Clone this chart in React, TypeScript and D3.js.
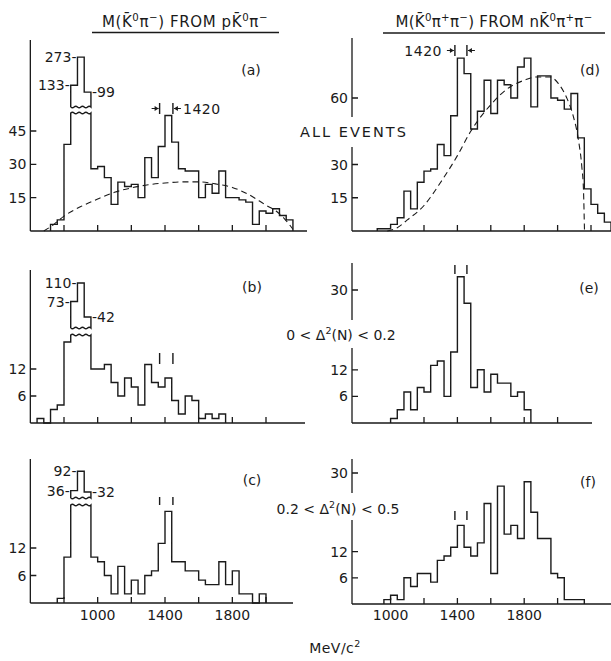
import * as React from 'react';
import * as d3 from 'd3';

const WIDTH = 611;
const HEIGHT = 661;
const BIN = 40; // MeV per bin

// left column: M(K̄0 π-) from p K̄0 π-, counts per 40 MeV bin
const startA = 720;
const countsA = [3, 5, 39, 133, 273, 99, 28, 29, 24, 12, 22, 20, 21, 15, 33, 24, 38, 52, 40, 28, 27, 27, 15, 21, 17, 27, 15, 15, 14, 13, 3, 9, 8, 10, 7, 5];
const startB = 640;
const countsB = [1, 0, 3, 4, 18, 73, 110, 42, 12, 12, 13, 9, 6, 10, 8, 4, 13, 9, 8, 10, 5, 2, 6, 5, 1, 2, 1, 2];
const startC = 760;
const countsC = [1, 10, 36, 92, 32, 10, 9, 6, 2, 8, 2, 5, 2, 6, 7, 13, 20, 9, 9, 7, 7, 5, 4, 4, 9, 4, 7, 2, 2, 0, 2];

// right column: M(K̄0 π+ π-) from n K̄0 π+ π-
const startD = 920;
const countsD = [1, 1, 3, 6, 18, 10, 22, 27, 28, 39, 34, 52, 78, 71, 46, 54, 68, 53, 68, 66, 60, 74, 78, 56, 70, 70, 60, 59, 55, 62, 42, 19, 12, 8, 4];
const startE = 1000;
const countsE = [1, 3, 7, 3, 8, 7, 13, 14, 6, 16, 33, 27, 8, 12, 7, 11, 9, 9, 6, 7, 3];
const startF = 960;
const countsF = [1, 2, 1, 6, 4, 7, 7, 5, 10, 11, 13, 18, 13, 11, 14, 23, 7, 27, 16, 18, 15, 28, 21, 15, 15, 7, 6, 1, 1, 1];

// dashed phase-space curves
const phaseAMass = [680, 740, 800, 900, 1000, 1100, 1200, 1300, 1400, 1500, 1600, 1700, 1800, 1900, 2000, 2060, 2110, 2160];
const phaseACount = [0, 3, 6.7, 11, 14.4, 17.4, 19.4, 20.8, 21.6, 22.1, 22.1, 21.2, 19.6, 16.3, 11.6, 9, 5.5, 0.8];
const phaseDMass = [980, 1040, 1100, 1200, 1300, 1400, 1480, 1600, 1715, 1800, 1875, 1955, 2005, 2055, 2095, 2125, 2145, 2155, 2161];
const phaseDCount = [0, 1.5, 5, 11.5, 22, 34, 45, 57, 65, 68, 69.5, 69.5, 66.5, 60, 51.5, 41, 29, 18.5, 0];

const yTicksA = [15, 30, 45];
const yTicksB = [6, 12];
const yTicksC = [6, 12];
const yTicksD = [15, 30, 60];
const yTicksE = [6, 12, 30];
const yTicksF = [6, 12, 30];

const xTicksLeft = [800, 1000, 1200, 1400, 1600, 1800, 2000];
const xTicksD = [1200, 1400, 1600, 1800, 2000, 2200];
const xTicksE = [1200, 1400, 1600, 1800, 2000];
const xTicksF = [1000, 1200, 1400, 1600, 1800, 2000];
const xTickLabels = [1000, 1400, 1800];

// K*(1420) width markers
const bandLeft = [1368, 1447];
const bandRight = [1385, 1457];

// text pieces, [text, superscript?]
const titleLeft = [['M(K\u0304', 0], ['0', 1], ['\u03C0', 0], ['\u2212', 1], [') FROM  pK\u0304', 0], ['0', 1], ['\u03C0', 0], ['\u2212', 1]];
const titleRight = [['M(K\u0304', 0], ['0', 1], ['\u03C0', 0], ['+', 1], ['\u03C0', 0], ['\u2212', 1], [') FROM  nK\u0304', 0], ['0', 1], ['\u03C0', 0], ['+', 1], ['\u03C0', 0], ['\u2212', 1]];
const cutLow = [['0 < \u0394', 0], ['2', 1], ['(N) < 0.2', 0]];
const cutHigh = [['0.2 < \u0394', 0], ['2', 1], ['(N) < 0.5', 0]];
const unitText = [['MeV/c', 0], ['2', 1]];

const FONT = '"DejaVu Sans", sans-serif';
const INK = '#1a1a1a';

const xL = d3.scaleLinear().domain([800, 2000]).range([64, 266]);
const xR = d3.scaleLinear().domain([1200, 2200]).range([424, 591]);

function wavy(p, xa, xb, y) {
  const n = Math.max(1, Math.round(Math.abs(xb - xa) / 3.5));
  const step = (xb - xa) / n;
  for (let i = 0; i < n; i++) {
    const x0 = xa + i * step;
    p.quadraticCurveTo(x0 + step / 2, y + (i % 2 ? 1.6 : -1.6), x0 + step, y);
  }
}

class Chart extends React.Component {
  componentDidMount() {
    this.svg = d3.select(this.node);
    this.draw();
  }

  panel = cfg => {
    const { x, start, counts, axisX, axisEnd, base, top, tickVal, tickY, yTicks, xTicks, gap, brk, band, bandY } = cfg;
    const y = d3.scaleLinear().domain([0, tickVal]).range([base, tickY]);
    const g = this.svg.append('g');

    // axes
    const ax = d3.path();
    ax.moveTo(axisX, base);
    ax.lineTo(axisEnd, base);
    if (gap) {
      ax.moveTo(axisX, top);
      ax.lineTo(axisX, gap[0]);
      ax.moveTo(axisX, gap[1]);
      ax.lineTo(axisX, base);
    } else {
      ax.moveTo(axisX, top);
      ax.lineTo(axisX, base);
    }
    xTicks.forEach(t => {
      ax.moveTo(x(t), base);
      ax.lineTo(x(t), base - 6);
    });
    yTicks.forEach(t => {
      ax.moveTo(axisX, y(t));
      ax.lineTo(axisX + 6, y(t));
    });
    g.append('path').attr('d', ax.toString()).attr('fill', 'none').attr('stroke', INK).attr('stroke-width', 1.3);

    g.selectAll('text.ytick')
      .data(yTicks)
      .enter()
      .append('text')
      .attr('x', axisX - 4)
      .attr('y', d => y(d))
      .attr('dy', '0.36em')
      .attr('text-anchor', 'end')
      .attr('font-size', 14)
      .text(d => d);

    // histogram
    const end = start + counts.length * BIN;
    const cut = brk ? y.invert(brk.low) : Infinity;
    const p = d3.path();
    p.moveTo(x(start), y(0));
    counts.forEach((c, i) => {
      const xa = x(start + i * BIN);
      const xb = x(start + (i + 1) * BIN);
      if (c > cut) {
        p.lineTo(xa, brk.low);
        wavy(p, xa, xb, brk.low);
      } else {
        p.lineTo(xa, y(c));
        p.lineTo(xb, y(c));
      }
    });
    p.lineTo(x(end), y(0));
    g.append('path').attr('d', p.toString()).attr('fill', 'none').attr('stroke', INK).attr('stroke-width', 1.4);

    if (brk) {
      const yU = d3.scaleLinear().domain([0, brk.upMax]).range([brk.upZero, brk.upTop]);
      const broken = counts.map((c, i) => ({ c, i })).filter(d => d.c > cut);
      const x0 = x(start + broken[0].i * BIN);
      const x1 = x(start + (broken[broken.length - 1].i + 1) * BIN);
      const up = d3.path();
      up.moveTo(x0, brk.high);
      broken.forEach(({ c, i }) => {
        up.lineTo(x(start + i * BIN), yU(c));
        up.lineTo(x(start + (i + 1) * BIN), yU(c));
      });
      up.lineTo(x1, brk.high);
      wavy(up, x1, x0, brk.high);
      g.append('path').attr('d', up.toString()).attr('fill', 'none').attr('stroke', INK).attr('stroke-width', 1.4);

      g.selectAll('text.brk')
        .data(broken)
        .enter()
        .append('text')
        .attr('x', (d, k) => (k === broken.length - 1 ? x(start + (d.i + 1) * BIN) + 1 : x(start + d.i * BIN) - 1))
        .attr('y', d => yU(d.c))
        .attr('dy', '0.36em')
        .attr('text-anchor', (d, k) => (k === broken.length - 1 ? 'start' : 'end'))
        .attr('font-size', 14)
        .text((d, k) => (k === broken.length - 1 ? `-${d.c}` : `${d.c}-`));
    }

    // band markers
    const bm = d3.path();
    band.forEach(m => {
      bm.moveTo(x(m), bandY[0]);
      bm.lineTo(x(m), bandY[1]);
    });
    g.append('path').attr('d', bm.toString()).attr('stroke', INK).attr('stroke-width', 1.4);

    return { g, y };
  };

  arrows = (g, x1, x2, ym) => {
    const a = d3.path();
    a.moveTo(x1 - 8, ym);
    a.lineTo(x1 - 1, ym);
    a.moveTo(x2 + 8, ym);
    a.lineTo(x2 + 1, ym);
    g.append('path').attr('d', a.toString()).attr('stroke', INK).attr('stroke-width', 1.2);
    const h = d3.path();
    h.moveTo(x1 - 1, ym);
    h.lineTo(x1 - 5, ym - 2.6);
    h.lineTo(x1 - 5, ym + 2.6);
    h.closePath();
    h.moveTo(x2 + 1, ym);
    h.lineTo(x2 + 5, ym - 2.6);
    h.lineTo(x2 + 5, ym + 2.6);
    h.closePath();
    g.append('path').attr('d', h.toString()).attr('fill', INK);
  };

  rich = (x, y, parts, size, ls) => {
    const t = this.svg.append('text').attr('x', x).attr('y', y).attr('text-anchor', 'middle')
      .attr('font-size', size).attr('letter-spacing', ls);
    let raised = false;
    parts.forEach(([s, sup]) => {
      const ts = t.append('tspan').text(s);
      if (sup && !raised) ts.attr('dy', -size * 0.42);
      if (!sup && raised) ts.attr('dy', size * 0.42);
      if (sup) ts.attr('font-size', size * 0.68);
      raised = !!sup;
    });
  };

  draw = () => {
    const svg = this.svg;
    svg.attr('font-family', FONT).attr('fill', INK);
    const axL = xL(600);
    const axR = 352;

    const a = this.panel({
      x: xL, start: startA, counts: countsA, axisX: axL, axisEnd: 307, base: 231, top: 40,
      tickVal: 45, tickY: 131, yTicks: yTicksA, xTicks: xTicksLeft,
      brk: { high: 107, low: 113, upMax: 300, upZero: 112, upTop: 51.7 },
      band: bandLeft, bandY: [103, 114],
    });
    this.panel({
      x: xL, start: startB, counts: countsB, axisX: axL, axisEnd: 305, base: 423, top: 270,
      tickVal: 12, tickY: 369, yTicks: yTicksB, xTicks: xTicksLeft,
      brk: { high: 328, low: 335, upMax: 120, upZero: 338, upTop: 278 },
      band: bandLeft, bandY: [353, 364],
    });
    const c = this.panel({
      x: xL, start: startC, counts: countsC, axisX: axL, axisEnd: 293, base: 603, top: 459,
      tickVal: 12, tickY: 548, yTicks: yTicksC, xTicks: xTicksLeft,
      brk: { high: 498, low: 505, upMax: 100, upZero: 503, upTop: 468.5 },
      band: bandLeft, bandY: [497, 505],
    });
    const d = this.panel({
      x: xR, start: startD, counts: countsD, axisX: axR, axisEnd: 611, base: 231, top: 38,
      tickVal: 60, tickY: 98, yTicks: yTicksD, xTicks: xTicksD, gap: [117, 147],
      band: bandRight, bandY: [45, 56],
    });
    this.panel({
      x: xR, start: startE, counts: countsE, axisX: axR, axisEnd: 592, base: 423, top: 263,
      tickVal: 30, tickY: 290, yTicks: yTicksE, xTicks: xTicksE, gap: [320, 348],
      band: bandRight, bandY: [265, 274],
    });
    const f = this.panel({
      x: xR, start: startF, counts: countsF, axisX: axR, axisEnd: 611, base: 604, top: 459,
      tickVal: 30, tickY: 473, yTicks: yTicksF, xTicks: xTicksF, gap: [493, 520],
      band: bandRight, bandY: [511, 520],
    });

    // phase space curves
    const lineA = d3.line().x(i => xL(phaseAMass[i])).y(i => a.y(phaseACount[i])).curve(d3.curveMonotoneX);
    a.g.append('path').attr('d', lineA(d3.range(phaseAMass.length))).attr('fill', 'none')
      .attr('stroke', INK).attr('stroke-width', 1.1).attr('stroke-dasharray', '6,4');
    const lineD = d3.line().x(i => xR(phaseDMass[i])).y(i => d.y(phaseDCount[i])).curve(d3.curveMonotoneX);
    d.g.append('path').attr('d', lineD(d3.range(phaseDMass.length))).attr('fill', 'none')
      .attr('stroke', INK).attr('stroke-width', 1.1).attr('stroke-dasharray', '6,4');

    this.arrows(a.g, xL(bandLeft[0]), xL(bandLeft[1]), 108.5);
    this.arrows(d.g, xR(bandRight[0]), xR(bandRight[1]), 50.5);

    // x tick labels
    c.g.selectAll('text.xl').data(xTickLabels).enter().append('text')
      .attr('x', v => xL(v)).attr('y', 620).attr('text-anchor', 'middle').attr('font-size', 14).text(v => v);
    f.g.selectAll('text.xl').data(xTickLabels).enter().append('text')
      .attr('x', v => xR(v)).attr('y', 620).attr('text-anchor', 'middle').attr('font-size', 14).text(v => v);

    const label = (x, y, txt, size, anchor = 'middle', ls = 0) =>
      svg.append('text').attr('x', x).attr('y', y).attr('text-anchor', anchor)
        .attr('font-size', size).attr('letter-spacing', ls).text(txt);

    this.rich(185, 27, titleLeft, 15, 0.6);
    this.rich(494, 27, titleRight, 15, 0.3);
    svg.append('line').attr('x1', 92).attr('x2', 279).attr('y1', 32.5).attr('y2', 32.5).attr('stroke', INK).attr('stroke-width', 1.3);
    svg.append('line').attr('x1', 383).attr('x2', 605).attr('y1', 33).attr('y2', 33).attr('stroke', INK).attr('stroke-width', 1.3);

    label(251, 75, '(a)', 14);
    label(590, 75, '(d)', 14);
    label(252, 292, '(b)', 14);
    label(589, 293, '(e)', 14);
    label(252, 485, '(c)', 14);
    label(588, 487, '(f)', 14);

    label(183, 113.5, '1420', 14, 'start', 0.5);
    label(442, 55.5, '1420', 14, 'end', 0.5);

    label(354, 137, 'ALL EVENTS', 14.5, 'middle', 2);
    this.rich(341, 340, cutLow, 14, 0);
    this.rich(338, 514, cutHigh, 14, 0);
    this.rich(335, 653, unitText, 14, 0.5);
  };

  render() {
    return (
      <svg
        ref={n => (this.node = n)}
        width={WIDTH}
        height={HEIGHT}
        style={{ position: 'absolute', left: 0, top: 0, background: '#fff' }}
      />
    );
  }
}

export default function App() {
  return <Chart />;
}
